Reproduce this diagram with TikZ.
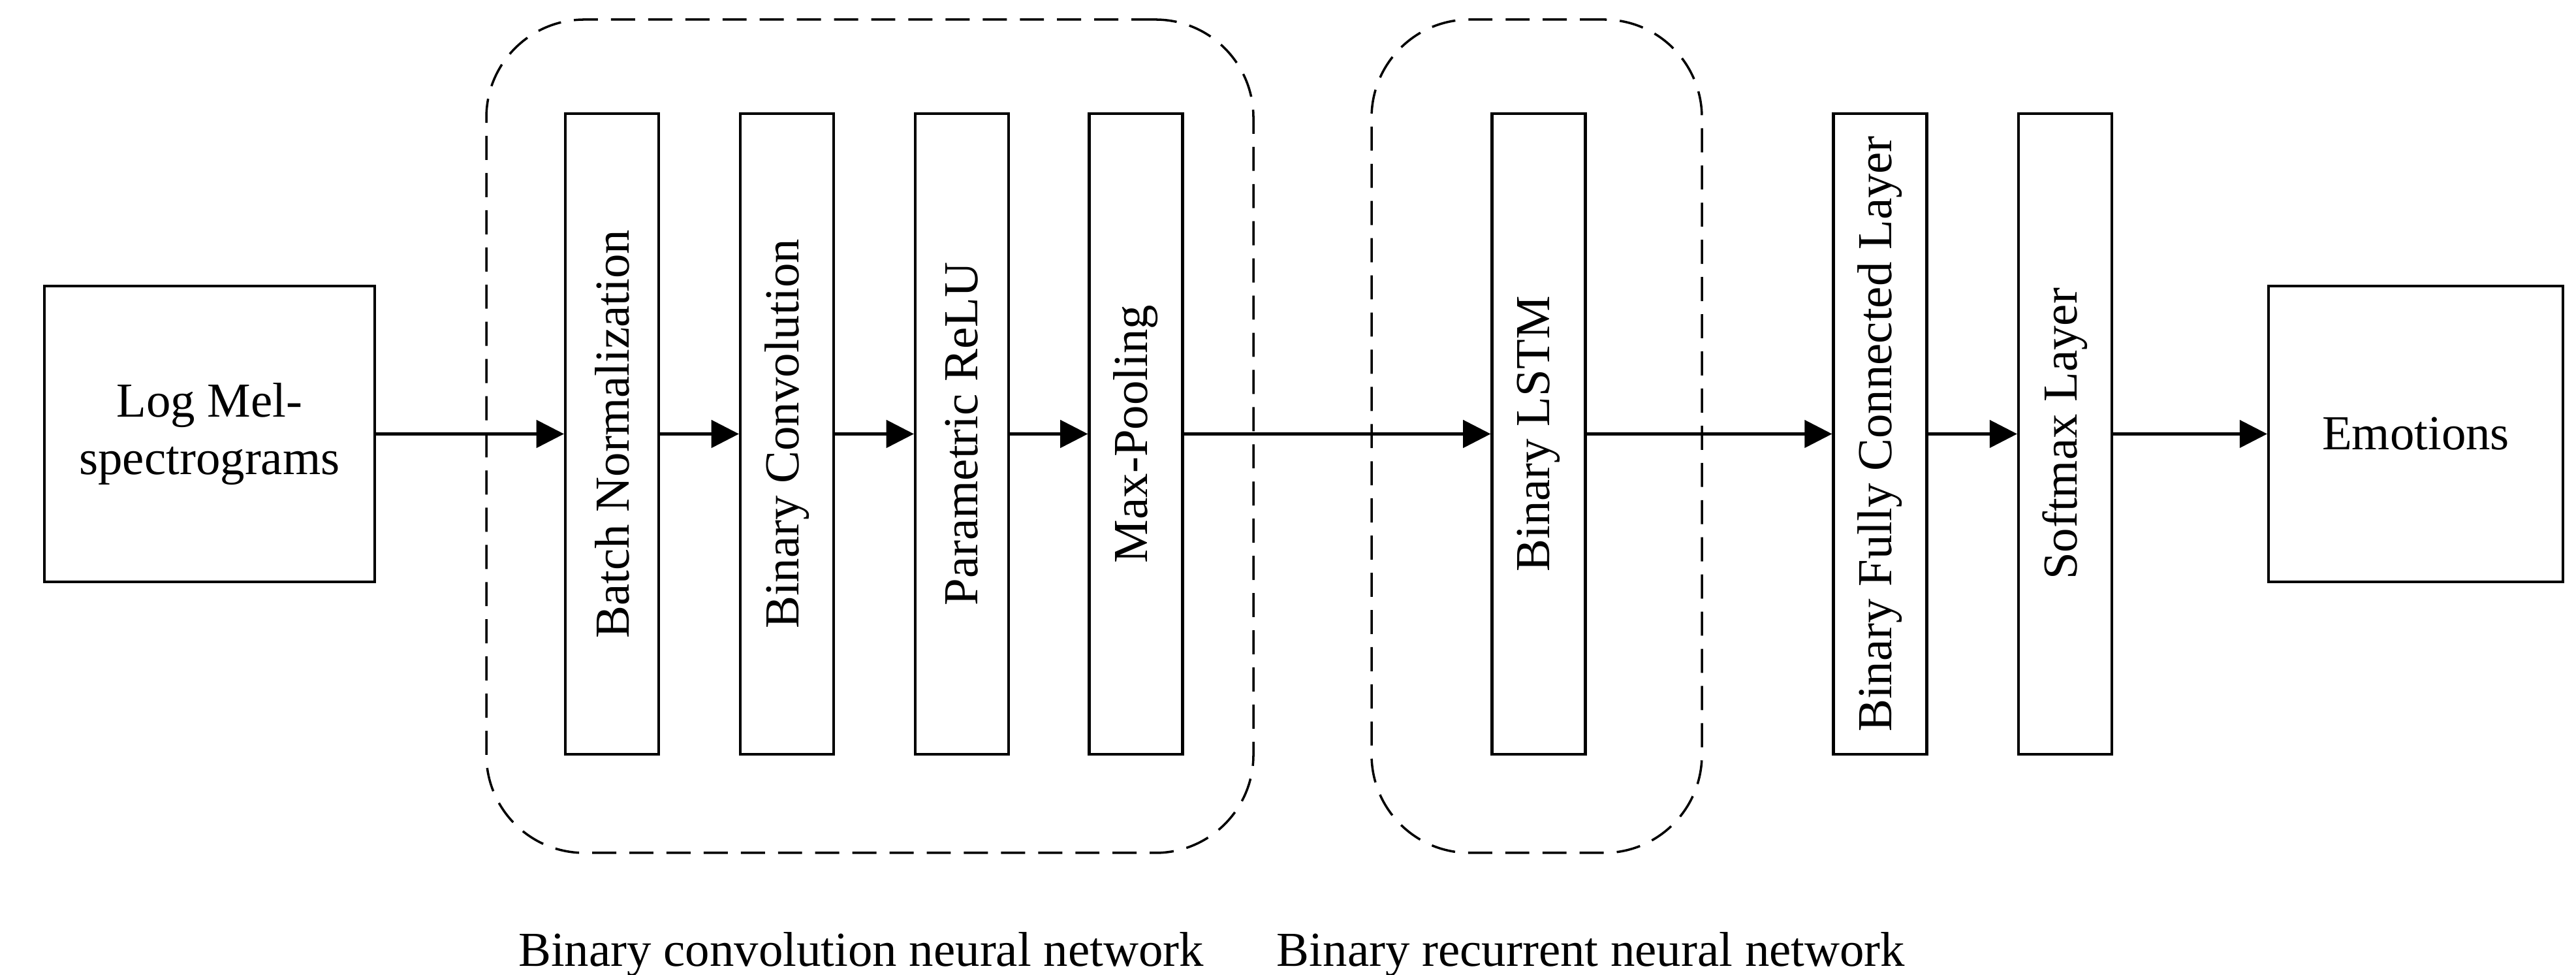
\documentclass[tikz,border=0pt]{standalone}
\usepackage{fontspec}
\setmainfont{Liberation Serif}
\usetikzlibrary{arrows.meta}

\begin{document}
\begin{tikzpicture}[->,>={Triangle[length=12pt,width=12pt]},line width=1.2pt,font=\fontsize{21.3}{25}\selectfont,
    io node/.style={draw,minimum width=5.06cm,minimum height=4.53cm,align=center},
    layer node/.style={draw,minimum width=1.43cm,minimum height=9.81cm,inner sep=0pt},
    group node/.style={draw,dash pattern=on 10.5pt off 5.7pt,line width=1pt,rounded corners=1.5cm,minimum height=12.76cm}]
                \useasboundingbox (0,0) rectangle (39.46,14.93);
                % dashed groups behind the layers
                \node[group node,minimum width=11.75cm] (g1) at (13.325,8.25) {};
                \node[group node,minimum width=5.06cm] (g2) at (23.54,8.25) {};

                \node[io node] (1) at (3.21,8.285) {Log Mel-\\spectrograms};
                \node[layer node,node distance=6.165cm] (2) [right of=1] {\rotatebox{90}{Batch Normalization}};
                \node[layer node,node distance=2.68cm] (3) [right of=2] {\rotatebox{90}{Binary Convolution}};
                \node[layer node,node distance=2.68cm] (4) [right of=3] {\rotatebox{90}{Parametric ReLU}};
                \node[layer node,node distance=2.665cm] (5) [right of=4] {\rotatebox{90}{Max-Pooling}};
                \node[layer node,node distance=6.17cm] (6) [right of=5] {\rotatebox{90}{Binary LSTM}};
                \node[layer node,node distance=5.23cm] (7) [right of=6] {\rotatebox{90}{Binary Fully Connected Layer}};
                \node[layer node,node distance=2.835cm] (8) [right of=7] {\rotatebox{90}{Softmax Layer}};
                \node[io node,minimum width=4.51cm,node distance=5.37cm] (9) [right of=8] {Emotions};

                \node (l1) at (13.19,0.31) {Binary convolution neural network};
                \node (l2) at (24.37,0.31) {Binary recurrent neural network};

                \path
                    (1) edge (2)
                    (2) edge (3)
                    (3) edge (4)
                    (4) edge (5)
                    (5) edge (6)
                    (6) edge (7)
                    (7) edge (8)
                    (8) edge (9)
                    ;
            \end{tikzpicture}
\end{document}
